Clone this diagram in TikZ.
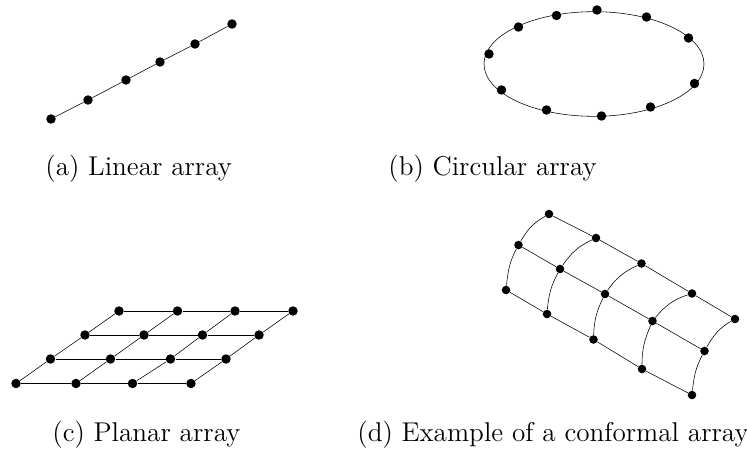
\documentclass[tikz,border=0pt]{standalone}
\usepackage{tikz}
\usetikzlibrary{shapes.geometric}

\begin{document}
\begin{tikzpicture}[
  x=0.75pt, y=-0.75pt,
  elem/.style={circle, fill=black, inner sep=0pt, minimum size=7.1pt},
  smallelem/.style={circle, fill=black, inner sep=0pt, minimum size=6.4pt},
  link/.style={draw, line width=0.42pt},
  caption/.style={anchor=base west, inner sep=0pt, scale=1.63, font=\fontsize{12.5}{15}\selectfont}
]
\useasboundingbox (0,0) rectangle (747,450);
% linear array
\node[elem] (l1) at (51,119) {};
\node[elem] (l2) at (88,100) {};
\node[elem] (l3) at (126,80) {};
\node[elem] (l4) at (160,62) {};
\node[elem] (l5) at (195,44) {};
\node[elem] (l6) at (232,24) {};
\draw[link] (l1) -- (l2) -- (l3) -- (l4) -- (l5) -- (l6);
\node[caption] (capa) at (45,175) {(a)\hspace{4pt}Linear array};
% circular array
\node[ellipse, link, inner sep=0pt, minimum width=165pt, minimum height=78.5pt] (ring) at (594,64) {};
\node[elem] (c1) at (489,54) {};
\node[elem] (c2) at (518.5,27) {};
\node[elem] (c3) at (556.5,15.5) {};
\node[elem] (c4) at (597,10) {};
\node[elem] (c5) at (646.5,17) {};
\node[elem] (c6) at (688.5,38) {};
\node[elem] (c7) at (694.5,83.5) {};
\node[elem] (c8) at (650.5,107) {};
\node[elem] (c9) at (601.5,116) {};
\node[elem] (c10) at (546.5,110) {};
\node[elem] (c11) at (501.5,90) {};
\node[caption] (capb) at (388,175) {(b)\hspace{4pt}Circular array};
% planar array
\node[elem] (p00) at (16,383.5) {};
\node[elem] (p01) at (76,383.5) {};
\node[elem] (p02) at (132.5,383.5) {};
\node[elem] (p03) at (191,383.5) {};
\node[elem] (p10) at (50.5,359) {};
\node[elem] (p11) at (110.5,359) {};
\node[elem] (p12) at (170.5,359) {};
\node[elem] (p13) at (226,359) {};
\node[elem] (p20) at (85,335) {};
\node[elem] (p21) at (144,335) {};
\node[elem] (p22) at (202.5,335) {};
\node[elem] (p23) at (259,335) {};
\node[elem] (p30) at (119,311) {};
\node[elem] (p31) at (177.5,311) {};
\node[elem] (p32) at (235,311) {};
\node[elem] (p33) at (293,311) {};
\draw[link] (p00) -- (p01) -- (p02) -- (p03);
\draw[link] (p10) -- (p11) -- (p12) -- (p13);
\draw[link] (p20) -- (p21) -- (p22) -- (p23);
\draw[link] (p30) -- (p31) -- (p32) -- (p33);
\draw[link] (p00) -- (p10) -- (p20) -- (p30);
\draw[link] (p01) -- (p11) -- (p21) -- (p31);
\draw[link] (p02) -- (p12) -- (p22) -- (p32);
\draw[link] (p03) -- (p13) -- (p23) -- (p33);
\node[caption] (capc) at (52,441) {(c)\hspace{4pt}Planar array};
% conformal array
\node[smallelem] (t1) at (549,214) {};
\node[smallelem] (t2) at (596,238) {};
\node[smallelem] (t3) at (641.5,263.5) {};
\node[smallelem] (t4) at (692,293.5) {};
\node[smallelem] (t5) at (735,319) {};
\node[smallelem] (m1) at (518.5,245) {};
\node[smallelem] (m2) at (560,269) {};
\node[smallelem] (m3) at (605,294) {};
\node[smallelem] (m4) at (652.5,321) {};
\node[smallelem] (m5) at (704.5,351) {};
\node[smallelem] (b1) at (506,290) {};
\node[smallelem] (b2) at (547,314) {};
\node[smallelem] (b3) at (593.5,339.5) {};
\node[smallelem] (b4) at (642,369) {};
\node[smallelem] (b5) at (692,395) {};
\draw[link] (t1) -- (t2) -- (t3) -- (t4) -- (t5);
\draw[link] (m1) -- (m2) -- (m3) -- (m4) -- (m5);
\draw[link] (b1) -- (b2) -- (b3) -- (b4) -- (b5);
\draw[link] (t1) to[out=-150, in=60] (m1) to[out=-118, in=84] (b1);
\draw[link] (t2) to[out=-155, in=55] (m2) to[out=-118, in=85] (b2);
\draw[link] (t3) to[out=-155, in=55] (m3) to[out=-116, in=88] (b3);
\draw[link] (t4) to[out=-162, in=50] (m4) to[out=-113, in=90] (b4);
\draw[link] (t5) to[out=-150, in=60] (m5) to[out=-118, in=84] (b5);
\node[caption] (capd) at (357,441) {(d)\hspace{4pt}Example of a conformal array};
\end{tikzpicture}
\end{document}
